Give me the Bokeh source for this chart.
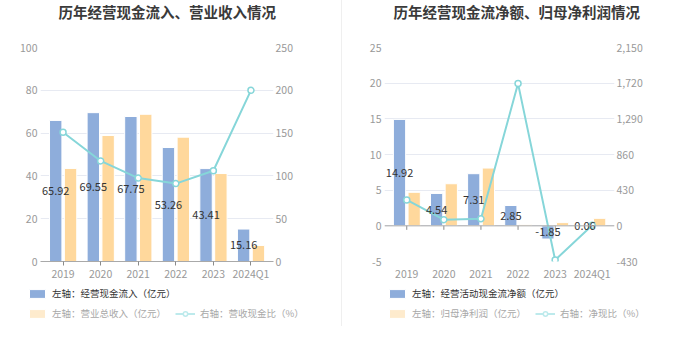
from bokeh.plotting import figure
from bokeh.models import (FactorRange, Range1d, LinearAxis, FixedTicker, NumeralTickFormatter,
                          Legend, LegendItem, ColumnDataSource, Span, Div, Text, Label)
from bokeh.transform import dodge
from bokeh.layouts import row, column
from bokeh.embed import file_html
from bokeh.resources import INLINE
from bokeh.core.properties import value

# ---------------- data ----------------
years = ["2019", "2020", "2021", "2022", "2023", "2024Q1"]

# chart 1
cash_inflow = [65.92, 69.55, 67.75, 53.26, 43.41, 15.16]      # 经营现金流入 (亿元)
revenue = [43.5, 58.9, 68.8, 58.1, 41.1, 7.5]                  # 营业总收入 (亿元)
cash_ratio = [151.0, 117.5, 97.5, 91.0, 106.0, 200.0]          # 营收现金比 (%)

# chart 2
net_cf = [14.92, 4.54, 7.31, 2.85, -1.85, 0.06]                 # 经营活动现金流净额 (亿元)
net_profit = [4.7, 5.9, 8.1, 0.17, 0.45, 1.05]                  # 归母净利润 (亿元)
net_ratio = [312, 74, 85, 1715, -412, 6]                        # 净现比 (%)

left1_ticks = [0, 20, 40, 60, 80, 100]
right1_ticks = [0, 50, 100, 150, 200, 250]
left2_ticks = [-5, 0, 5, 10, 15, 20, 25]
right2_ticks = [-430, 0, 430, 860, 1290, 1720, 2150]

title1 = "历年经营现金流入、营业收入情况"
title2 = "历年经营现金流净额、归母净利润情况"
legend1 = ["左轴：经营现金流入（亿元）", "左轴：营业总收入（亿元）", "右轴：营收现金比（%）"]
legend2 = ["左轴：经营活动现金流净额（亿元）", "左轴：归母净利润（亿元）", "右轴：净现比（%）"]

# ---------------- style ----------------
FONT = "Noto Sans CJK SC"
BLUE = "#8EADDB"
ORANGE = "#FFD89C"
TEAL = "#86D6D9"
ORANGE_FADE = "#FEEBCD"
TEAL_FADE = "#BDEAEC"
GRID = "#E7EAF2"
TICK_TXT = "#999999"

TITLE_H = 25
MAIN_H = 260
LEG_H = 349 - TITLE_H - MAIN_H
NAN = float("nan")
PAD = 0.1   # category padding so the edge data labels are not clipped

HAS_OUTLINE = "outline_color" in Text.properties()


def blank_fig(width, height):
    f = figure(width=width, height=height, x_range=Range1d(0, width), y_range=Range1d(0, height),
               x_axis_type=None, y_axis_type=None, output_backend="svg",
               toolbar_location=None, min_border=0)
    f.frame_align = False
    f.outline_line_color = None
    f.xgrid.grid_line_color = None
    f.ygrid.grid_line_color = None
    f.background_fill_color = "white"
    f.border_fill_color = "white"
    return f


def title_fig(width, text, x0):
    f = blank_fig(width, TITLE_H)
    f.add_layout(Label(x=x0, y=TITLE_H - 11, text=text, text_align="left",
                       text_baseline="middle", text_font=FONT, text_font_size="14.5px",
                       text_font_style="bold", text_color="#3a3a3a"))
    return f


def legend_fig(width, labels, x_row, x_line):
    f = blank_fig(width, LEG_H)
    # legend swatches only (NaN data: nothing drawn in the plot area)
    r_blue = f.vbar(x=[NAN], top=[NAN], width=1, fill_color=BLUE, line_color="white")
    r_orange = f.vbar(x=[NAN], top=[NAN], width=1, fill_color=ORANGE_FADE, line_color="white")
    r_line = f.line(x=[NAN, NAN], y=[NAN, NAN], line_color=TEAL_FADE, line_width=2)
    r_pt = f.scatter(x=[NAN], y=[NAN], size=8, fill_color="white", line_color=TEAL_FADE,
                     line_width=1.5)
    common = dict(orientation="horizontal", padding=0, margin=0, spacing=0,
                  glyph_width=20, glyph_height=11, label_standoff=5,
                  label_height=11, label_width=10,
                  label_text_font=FONT, label_text_font_size="9.5px",
                  border_line_alpha=0, background_fill_alpha=0)
    f.add_layout(Legend(items=[LegendItem(label=labels[0], renderers=[r_blue])],
                        location=(x_row, 49), label_text_color="#333333", **common))
    f.add_layout(Legend(items=[LegendItem(label=labels[1], renderers=[r_orange])],
                        location=(x_row, 29), label_text_color="#A8A8A8", **common))
    f.add_layout(Legend(items=[LegendItem(label=labels[2], renderers=[r_line, r_pt])],
                        location=(x_line, 29), label_text_color="#A8A8A8", **common))
    return f


def make_chart(bars_a, bars_b, ratio, lticks, rticks, width, bl, br):
    src = ColumnDataSource(dict(
        year=years, a=bars_a, b=bars_b, r=ratio,
        mid=[v / 2 for v in bars_a], lbl=["%.2f" % v for v in bars_a]))
    xr = FactorRange(*years, range_padding=PAD, range_padding_units="absolute")
    p = figure(width=width, height=MAIN_H, x_range=xr,
               y_range=Range1d(lticks[0], lticks[-1]),
               output_backend="svg", toolbar_location=None,
               min_border_left=bl, min_border_right=br,
               min_border_top=47 - TITLE_H, min_border_bottom=MAIN_H + TITLE_H - 261)
    p.frame_align = False
    p.outline_line_color = None
    p.background_fill_color = "white"
    p.border_fill_color = "white"

    p.extra_y_ranges = {"right": Range1d(rticks[0], rticks[-1])}

    p.xgrid.grid_line_color = None
    p.ygrid.ticker = FixedTicker(ticks=lticks)
    p.ygrid.grid_line_color = GRID
    p.ygrid.grid_line_width = 1

    ya = p.yaxis[0]
    ya.ticker = FixedTicker(ticks=lticks)
    ya.formatter = NumeralTickFormatter(format="0")
    ya.axis_line_color = None
    ya.major_tick_line_color = None
    ya.minor_tick_line_color = None
    ya.major_tick_out = 0
    ya.major_tick_in = 0
    ya.major_label_standoff = 3
    ya.major_label_text_font = FONT
    ya.major_label_text_font_size = "10.5px"
    ya.major_label_text_color = TICK_TXT

    ra = LinearAxis(y_range_name="right", ticker=FixedTicker(ticks=rticks),
                    formatter=NumeralTickFormatter(format="0,0"))
    ra.axis_line_color = None
    ra.major_tick_line_color = None
    ra.minor_tick_line_color = None
    ra.major_tick_out = 0
    ra.major_tick_in = 0
    ra.major_label_standoff = 2
    ra.major_label_text_font = FONT
    ra.major_label_text_font_size = "10.5px"
    ra.major_label_text_color = TICK_TXT
    p.add_layout(ra, "right")

    xa = p.xaxis[0]
    xa.major_label_text_font = FONT
    xa.major_label_text_font_size = "10.5px"
    xa.major_label_text_color = TICK_TXT
    xa.major_tick_out = 4
    xa.major_tick_in = 0
    xa.major_label_standoff = 0
    if lticks[0] == 0:
        xa.axis_line_color = "#A9A9A9"
        xa.major_tick_line_color = "#8A8A8A"
    else:
        xa.axis_line_color = None
        xa.major_tick_line_color = None
        p.add_layout(Span(location=0, dimension="width", line_color="#A9A9A9", line_width=1))
        tick_len = (lticks[-1] - lticks[0]) * 4.0 / 214.0
        p.segment(x0="year", x1="year", y0=0, y1=-tick_len, source=src,
                  line_color="#8A8A8A", line_width=1)

    # bars
    p.vbar(x=dodge("year", -0.195, range=p.x_range), top="a", width=0.33,
           source=src, fill_color=BLUE, line_color="white", line_width=1)
    p.vbar(x=dodge("year", 0.2, range=p.x_range), top="b", width=0.33,
           source=src, fill_color=ORANGE, line_color="white", line_width=1)

    # ratio line
    p.line(x="year", y="r", source=src, y_range_name="right",
           line_color=TEAL, line_width=2)
    p.scatter(x="year", y="r", source=src, y_range_name="right", size=6,
              fill_color="white", line_color=TEAL, line_width=1.5)

    # data labels
    kw = dict(x=dodge("year", -0.195, range=p.x_range), y="mid", text="lbl", source=src,
              text_align="center", text_baseline="middle",
              text_font=value(FONT), text_font_size="11px", text_color="#333333")
    if HAS_OUTLINE:
        kw["outline_color"] = "white"
    p.text(**kw)
    return p


W1, W2 = 341, 338
p1 = make_chart(cash_inflow, revenue, cash_ratio, left1_ticks, right1_ticks, W1, 40, 68)
p2 = make_chart(net_cf, net_profit, net_ratio, left2_ticks, right2_ticks, W2, 42, 66)

col1 = column(title_fig(W1, title1, 58), p1, legend_fig(W1, legend1, 27, 175))
col2 = column(title_fig(W2, title2, 51), p2, legend_fig(W2, legend2, 45, 193))

divider = Div(text="", width=1, height=326, margin=0,
              styles={"background-color": "#EFEFEF"})
layout = row(col1, divider, col2)

open("out.html", "w").write(file_html(layout, INLINE))
